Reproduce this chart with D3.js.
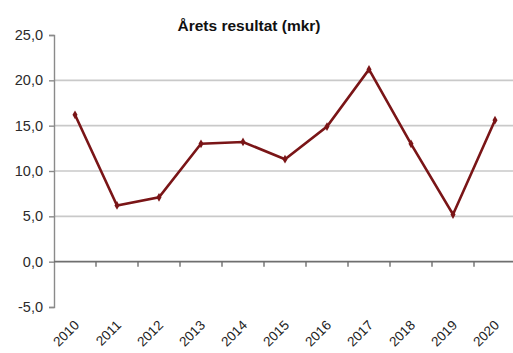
<!DOCTYPE html>
<html>
<head>
<meta charset="utf-8">
<script src="https://cdn.jsdelivr.net/npm/d3@7"></script>
<style>
  html, body { margin: 0; padding: 0; background: #fff; }
  svg { display: block; }
  text { font-family: Arial, "Liberation Sans", sans-serif; }
</style>
</head>
<body>
<div id="chart"></div>
<script>
// Årets resultat (mkr), 2010–2020
const years = ["2010","2011","2012","2013","2014","2015","2016","2017","2018","2019","2020"];
const result = [16.2, 6.2, 7.1, 13.0, 13.2, 11.3, 14.9, 21.2, 13.0, 5.2, 15.6];
const yTicks = [-5, 0, 5, 10, 15, 20, 25];
const title = "Årets resultat (mkr)";

const W = 513, H = 353;
const margin = { top: 35, right: -3, bottom: 46, left: 54 };

const svg = d3.select("#chart").append("svg")
  .attr("width", W).attr("height", H);

const x = d3.scaleBand()
  .domain(years)
  .range([margin.left, W - margin.right])
  .paddingInner(0).paddingOuter(0);

const y = d3.scaleLinear()
  .domain([-5, 25])
  .range([H - margin.bottom, margin.top]);

const fmt = v => d3.format(".1f")(v).replace(".", ",").replace("−", "-");

// horizontal gridlines
svg.append("g")
  .selectAll("line")
  .data(yTicks.filter(t => t !== 0 && t !== -5 && t !== 25))
  .join("line")
  .attr("x1", margin.left).attr("x2", W)
  .attr("y1", d => y(d)).attr("y2", d => y(d))
  .attr("stroke", "#c9c9c9").attr("stroke-width", 1.6);

// y axis
const yAxis = svg.append("g")
  .attr("transform", `translate(${margin.left},0)`)
  .call(d3.axisLeft(y).tickValues(yTicks).tickFormat(fmt).tickSize(5).tickPadding(6));
yAxis.select(".domain").attr("stroke", "#8a8a8a").attr("stroke-width", 1.4);
yAxis.selectAll(".tick line").attr("stroke", "#8a8a8a").attr("stroke-width", 1.4);
yAxis.selectAll(".tick text")
  .attr("fill", "#2b2b2b").style("font-size", "14.5px");

// x axis on the zero line, ticks between categories
const xAxis = svg.append("g")
  .attr("transform", `translate(0,${y(0)})`);
xAxis.append("line")
  .attr("x1", margin.left).attr("x2", W)
  .attr("stroke", "#6f6f6f").attr("stroke-width", 1.6);
xAxis.selectAll("line.tk")
  .data(years.slice(1))
  .join("line")
  .attr("class", "tk")
  .attr("x1", d => x(d)).attr("x2", d => x(d))
  .attr("y1", 0).attr("y2", 5)
  .attr("stroke", "#6f6f6f").attr("stroke-width", 1.4);

// rotated year labels under the plot
svg.append("g")
  .selectAll("text")
  .data(years)
  .join("text")
  .attr("transform", d => `translate(${x(d) + x.bandwidth() / 2 + 5},${y(-5) + 19}) rotate(-45)`)
  .attr("text-anchor", "end")
  .attr("fill", "#222")
  .style("font-size", "13.5px")
  .text(d => d);

// result line
const line = d3.line()
  .x((d, i) => x(years[i]) + x.bandwidth() / 2)
  .y(d => y(d));

svg.append("path")
  .datum(result)
  .attr("d", line)
  .attr("fill", "none")
  .attr("stroke", "#7a1517")
  .attr("stroke-width", 2.6)
  .attr("stroke-linejoin", "miter");

// small diamond markers
svg.append("g")
  .selectAll("path")
  .data(result)
  .join("path")
  .attr("transform", (d, i) => `translate(${x(years[i]) + x.bandwidth() / 2},${y(d)})`)
  .attr("d", d3.symbol(d3.symbolDiamond, 22))
  .attr("fill", "#7a1517");

// title
svg.append("text")
  .attr("x", 249).attr("y", 31)
  .attr("text-anchor", "middle")
  .attr("fill", "#111")
  .style("font-size", "15.5px")
  .style("font-weight", "bold")
  .text(title);
</script>
</body>
</html>
